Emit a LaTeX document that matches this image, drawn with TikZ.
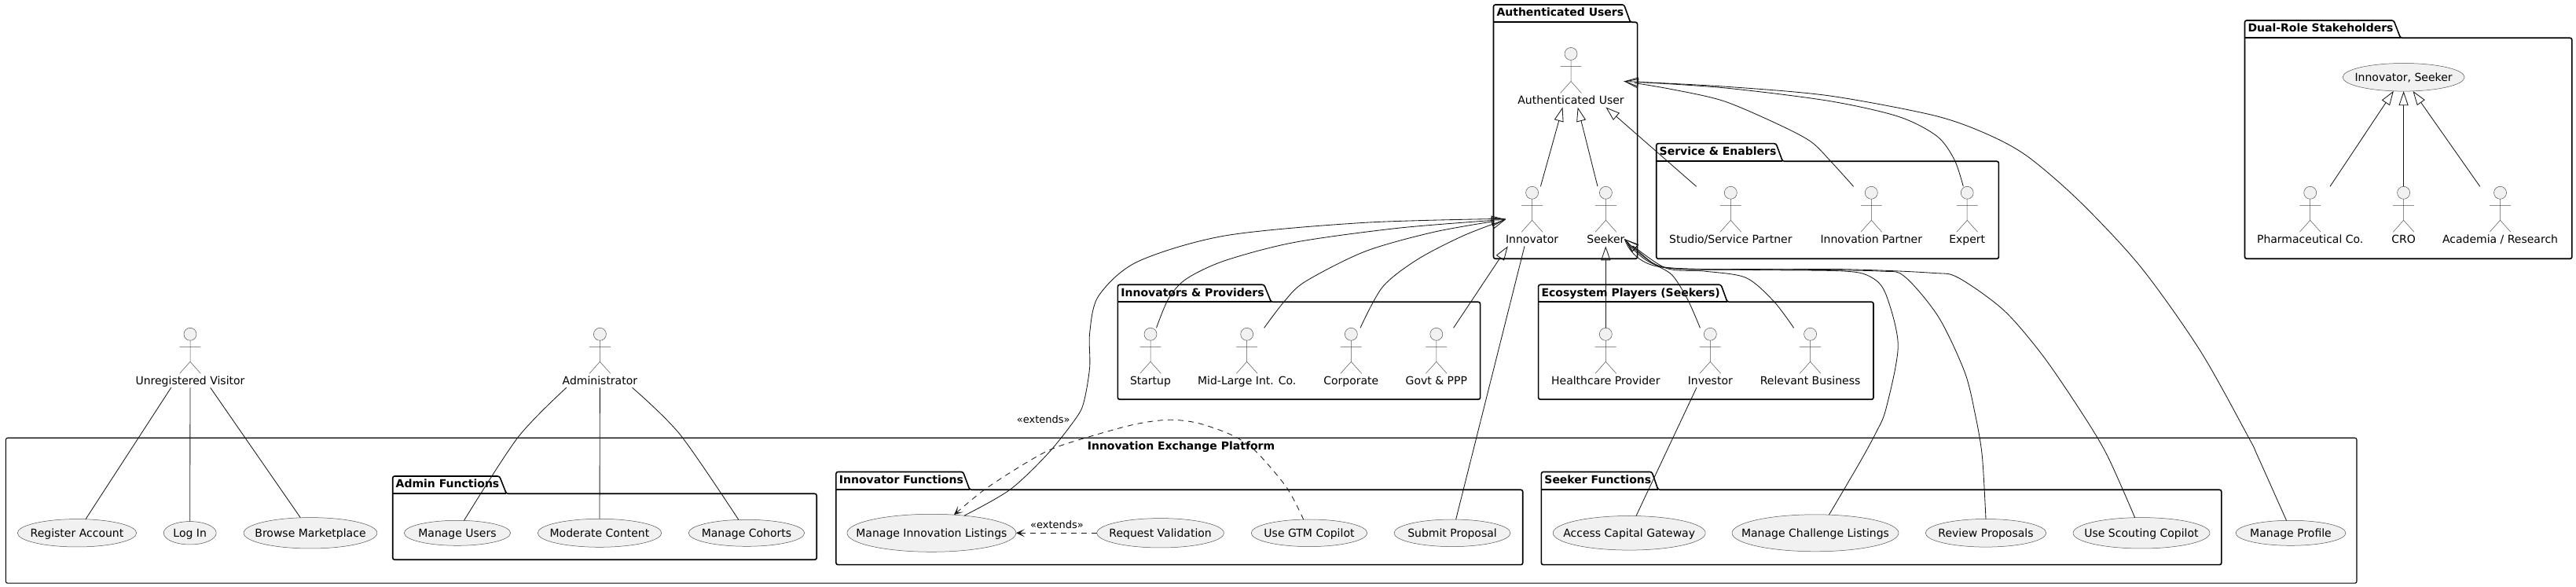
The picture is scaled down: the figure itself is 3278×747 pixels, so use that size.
\documentclass[tikz,border=0pt]{standalone}
\usepackage{fontspec}
\setmainfont{DejaVu Sans}
\usetikzlibrary{arrows.meta,calc,shapes.geometric}
\definecolor{ink}{HTML}{181818}
\definecolor{thinink}{HTML}{505050}
\definecolor{ucfill}{HTML}{F1F1F1}
\tikzset{
  every node/.style={font=\fontsize{7}{8.4}\selectfont,text=black,outer sep=0pt},
  pkgline/.style={draw=black,line width=0.8pt,rounded corners=1.2pt},
  sysline/.style={draw=black,line width=0.55pt,rounded corners=1.2pt},
  pkgtitle/.style={font=\fontsize{7}{8.4}\selectfont\bfseries,anchor=base west,inner sep=0pt},
  actorbox/.style={rectangle,inner sep=0pt,text height=36.25pt,text depth=1.75pt,anchor=north},
  actorline/.style={draw=thinink,line width=0.25pt},
  usecase/.style={ellipse,draw=thinink,line width=0.25pt,fill=ucfill,inner sep=0pt},
  assoc/.style={draw=ink,line width=0.42pt},
  gen/.style={assoc,-{Triangle[open,length=9pt,width=6pt]}},
  ext/.style={draw=ink,line width=0.42pt,dash pattern=on 3.5pt off 3pt,-{Stealth[length=5.5pt,width=5pt,inset=3pt]}},
  extlabel/.style={font=\fontsize{6.5}{8}\selectfont,inner sep=0pt},
}
% name, left, top, tab right, slant end, tab bottom, right, bottom, title
\newcommand{\pkgbox}[9]{%
  \draw[pkgline] (#2,#8) -- (#2,#3) -- (#4,#3) -- (#5,#6) -- (#7,#6) -- (#7,#8) -- cycle;
  \draw[pkgline] (#2,#6) -- (#5,#6);
  \node[pkgtitle] (#1) at (#2+4,#3+15) {#9};
}
% name, x, top, label
\newcommand{\actorfig}[4]{%
  \node[actorbox] (#1) at (#2,#3) {#4};
  \draw[actorline,fill=ucfill] (#2,#3+8) circle[radius=4pt];
  \draw[actorline] (#2,#3+16) -- (#2,#3+43) (#2-13.4,#3+24) -- (#2+13.4,#3+24)
    (#2-13.4,#3+58) -- (#2,#3+43) -- (#2+13.4,#3+58);
}
% name, cx, cy, rx, ry, text
\newcommand{\ucase}[6]{%
  \node[usecase,minimum width=#4pt,minimum height=#5pt] (#1) at (#2,#3)
    {\makebox[0pt]{\smash{\raisebox{-2.6pt}{#6}}}};
}
\begin{document}
\begin{tikzpicture}[x=0.5pt,y=-0.5pt]
\useasboundingbox (0,0) rectangle (3278,747);
% system
\draw[sysline] (7.4,557.3) rectangle (2999,742.2);
\node[font=\fontsize{7}{8.4}\selectfont\bfseries,inner sep=0pt] (sys) at (1503,568.3) {Innovation Exchange Platform};
% packages
\pkgbox{pauth}{1900.5}{6}{2066.6}{2074.6}{28.3}{2083.6}{329.3}{Authenticated Users}
\pkgbox{pserv}{2107.7}{182.7}{2260}{2268.4}{205.3}{2543.4}{329.3}{Service \& Enablers}
\pkgbox{pdual}{2856.5}{26}{3046}{3054.6}{48.3}{3272.8}{329.3}{Dual-Role Stakeholders}
\pkgbox{pinn}{1422.4}{362.3}{1608.6}{1617.5}{384.3}{1883.6}{508.3}{Innovators \& Providers}
\pkgbox{peco}{1957.6}{362.3}{2190}{2198}{384.3}{2384}{508.3}{Ecosystem Players (Seekers)}
\pkgbox{padm}{499.7}{606}{635.6}{644.4}{628.3}{1039.2}{712.3}{Admin Functions}
\pkgbox{pifn}{1063.9}{600.5}{1225.5}{1234}{623.3}{1937.7}{718.7}{Innovator Functions}
\pkgbox{psfn}{1961.4}{600.5}{2102}{2110}{623.3}{2826.8}{718.7}{Seeker Functions}
% actors
\actorfig{auth}{1999}{60.5}{Authenticated User}
\actorfig{innovator}{1949.6}{237.3}{Innovator}
\actorfig{seeker}{2043.4}{237.3}{Seeker}
\actorfig{studio}{2202.3}{237.3}{Studio/Service Partner}
\actorfig{ipartner}{2381.3}{237.3}{Innovation Partner}
\actorfig{expert}{2503.2}{237.3}{Expert}
\actorfig{pharma}{2939.7}{237.3}{Pharmaceutical Co.}
\actorfig{cro}{3058.6}{237.3}{CRO}
\actorfig{academia}{3181.5}{237.3}{Academia / Research}
\actorfig{startup}{1464}{417.3}{Startup}
\actorfig{midlarge}{1586.7}{417.3}{Mid-Large Int. Co.}
\actorfig{corporate}{1719.3}{417.3}{Corporate}
\actorfig{govt}{1827.8}{417.3}{Govt \& PPP}
\actorfig{health}{2043.3}{417.3}{Healthcare Provider}
\actorfig{investor}{2176.3}{417.3}{Investor}
\actorfig{relevant}{2303.6}{417.3}{Relevant Business}
\actorfig{visitor}{242}{417.3}{Unregistered Visitor}
\actorfig{admin}{763.4}{417.3}{Administrator}
% use cases
\ucase{dual}{3058.6}{98.3}{77.5}{17.8}{Innovator, Seeker}
\ucase{register}{98}{678.3}{75.7}{17.7}{Register Account}
\ucase{login}{241.7}{678.3}{33.5}{14.7}{Log In}
\ucase{browse}{395}{678.3}{84.9}{19.7}{Browse Marketplace}
\ucase{musers}{582}{678.3}{67.6}{16}{Manage Users}
\ucase{moderate}{763}{678.3}{78.8}{18}{Moderate Content}
\ucase{cohorts}{950}{678.3}{73.7}{17}{Manage Cohorts}
\ucase{mil}{1185.4}{678.3}{107.5}{24}{Manage Innovation Listings}
\ucase{reqval}{1476.6}{678.3}{80.8}{18.7}{Request Validation}
\ucase{gtm}{1666}{678.3}{73.8}{17.3}{Use GTM Copilot}
\ucase{submit}{1848}{678.3}{74}{17.3}{Submit Proposal}
\ucase{capital}{2073.2}{678.3}{97}{21.8}{Access Capital Gateway}
\ucase{mcl}{2310}{678.3}{106}{23.5}{Manage Challenge Listings}
\ucase{review}{2527}{678.3}{76.8}{17.8}{Review Proposals}
\ucase{scout}{2725}{678.3}{87}{19.7}{Use Scouting Copilot}
\ucase{profile}{2915}{678.3}{70}{16}{Manage Profile}
% straight generalisations
\draw[gen] ($(innovator.north)+(10.8,0)$) -- ($(auth.south)+(-10.5,0)$);
\draw[gen] ($(seeker.north)+(-10.4,0)$) -- ($(auth.south)+(8.7,0)$);
\draw[gen] ($(studio.north)+(-43.7,0)$) -- ($(auth.south)+(44.4,0)$);
\draw[gen] ($(pharma.north)+(25.3,0)$) -- (dual.234.6);
\draw[gen] (cro.north) -- (dual.south);
\draw[gen] ($(academia.north)+(-25.8,0)$) -- (dual.304.1);
\draw[gen] ($(govt.north)+(21.8,0)$) -- ($(innovator.south)+(-30.8,0)$);
\draw[gen] (health.north) -- (health.north |- seeker.south);
% curved generalisations
\draw[gen] plot[smooth] coordinates {($(ipartner.north)+(-22.7,0)$) (2330.9,206.7) (2304,180) (2259.5,156.7) (2192.5,128.3) (2125.5,113.3) ($(auth.east)+(0,5)$)};
\draw[gen] plot[smooth] coordinates {($(expert.north)+(-4.9,0)$) (2487,203.3) (2464.8,173.3) (2415.7,148.3) (2326.4,128.3) (2192.5,111.7) ($(auth.east)+(0,5)$)};
\draw[gen] plot[smooth] coordinates {($(startup.north)+(7.5,0)$) (1487,380) (1509.5,355) (1558.6,331.7) (1647.9,308.3) (1781.8,290) ($(innovator.west)+(0,4)$)};
\draw[gen] plot[smooth] coordinates {($(midlarge.north)+(21.9,0)$) (1634.5,383.3) (1661,358.3) (1737,320) (1826,295) ($(innovator.west)+(0,4)$)};
\draw[gen] plot[smooth] coordinates {($(corporate.north)+(11.7,0)$) (1759.5,365) (1804,330) (1862,300) ($(innovator.west)+(0,4)$)};
\draw[gen] plot[smooth] coordinates {($(relevant.north)+(-21,0)$) (2257,383.3) (2221.4,353.3) (2167.9,345) (2118.8,340.7) ($(seeker.east)+(0,29)$)};
\draw[gen] plot[smooth] coordinates {($(investor.north)+(-12.9,0)$) (2147.8,381.7) (2127.7,350) (2100.9,333.3) ($(seeker.east)+(0,29)$)};
% associations
\draw[assoc] ($(visitor.south)+(-24.3,0)$) -- (register.58.4);
\draw[assoc] (visitor.south) -- (login.north);
\draw[assoc] ($(visitor.south)+(25.7,0)$) -- (browse.123);
\draw[assoc] plot[smooth] coordinates {($(admin.south)+(-42.6,0)$) (659,556.7) (musers.62.6)};
\draw[assoc] (admin.south) -- (moderate.north);
\draw[assoc] plot[smooth] coordinates {($(admin.south)+(41.2,0)$) (865.4,553) (cohorts.121.6)};
\draw[assoc] ($(innovator.south)+(-9.6,0)$) -- (submit.75);
\draw[assoc] ($(investor.south)+(-17.4,0)$) -- (capital.68);
\draw[assoc] plot[smooth] coordinates {($(innovator.west)+(0,3)$) (1737,283.3) (1558.6,300) (1447,333.3) (1397.9,376.7) (1386.7,423.3) (1386.7,466.7) (1380,508.3) (1370.7,530) (1334,576.7) (1285,623.3) (mil.28.3)};
\draw[assoc] plot[smooth] coordinates {($(auth.east)+(0,5)$) (2192.5,110) (2326.4,121.7) (2460,146.7) (2527,170) (2580,199) (2646.8,256.7) (2724.3,340) (2800,446.7) (2861.7,557.3) (2872.7,580) (profile.109.6)};
\draw[assoc] plot[smooth] coordinates {($(seeker.east)+(0,29)$) (2114,339.3) (2212.5,343.3) (2346.4,345) (2382,353.3) (2400,375) (2415.3,440) (2400,520) (2387.5,550) (2365.7,590) (mcl.53.9)};
\draw[assoc] plot[smooth] coordinates {($(seeker.east)+(0,29)$) (2114,339.3) (2257,342.7) (2391,345) (2423.3,351.7) (2466.7,403.3) (2500,473.3) (2513.3,526.7) (2522.3,580) (review.north)};
\draw[assoc] plot[smooth] coordinates {($(seeker.east)+(0,29)$) (2114,340) (2346,342.7) (2458,347.3) (2491.7,353.3) (2550,395) (2600,453.3) (2650,526.7) (2681.7,580) (scout.113.6)};
% extends
\draw[ext] (reqval.west) -- (mil.east);
\draw[ext] plot[smooth] coordinates {(gtm.113) (1637,620) (1597,573.3) (1566.6,553.3) (1523.8,538.3) (1487,534.3) (1444,540) (1383,556.7) (1334,573.3) (1285,601.7) (1248,626.7) (mil.39.9)};
\node[extlabel] (ext1) at (1345,667.7) {«extends»};
\node[extlabel] (ext2) at (1327.8,534) {«extends»};
\end{tikzpicture}
\end{document}
